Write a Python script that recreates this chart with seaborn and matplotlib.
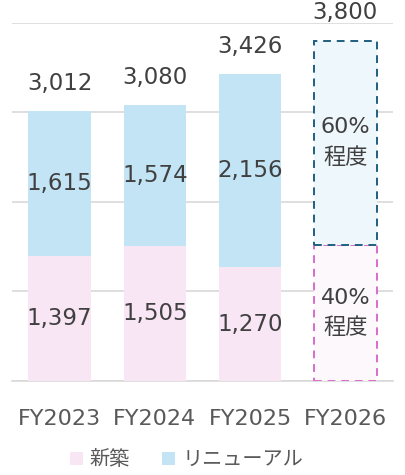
import pandas as pd
import matplotlib.pyplot as plt
import seaborn as sns
from matplotlib.patches import Patch

sns.set_style('white')
plt.rcParams['font.family'] = ['DejaVu Sans', 'Noto Sans CJK JP']

# データ
years = ['FY2023', 'FY2024', 'FY2025', 'FY2026']
new_build = [1397, 1505, 1270]      # 新築
renewal = [1615, 1574, 2156]        # リニューアル
totals = [3012, 3080, 3426, 3800]
plan_total = 3800
plan_share = [0.4, 0.6]             # 新築, リニューアル
plan_labels = ['40%\n程度', '60%\n程度']

c_new = '#f9e6f5'
c_ren = '#c2e4f4'
txt = '#404040'

df = pd.DataFrame({'year': years[:3], 'new': new_build, 'ren': renewal})
plan_new = plan_total * plan_share[0]
plan_ren = plan_total * plan_share[1]
df_plan = pd.DataFrame({'year': [years[3]], 'new': [plan_new], 'ren': [plan_ren]})

fig = plt.figure(figsize=(4.05, 4.75), dpi=100)
ax = fig.add_axes([0.03, 0.198, 0.94, 0.754])

# 実績 (積み上げ)
sns.barplot(data=df, x='year', y='new', order=years, color=c_new,
            width=0.66, saturation=1, linewidth=0, ax=ax, zorder=3)
sns.barplot(data=df, x='year', y='ren', order=years, color=c_ren,
            width=0.66, saturation=1, linewidth=0, bottom=df['new'].values,
            ax=ax, zorder=3)

# 計画 (破線枠)
sns.barplot(data=df_plan, x='year', y='new', order=years, color='#fcf8fc',
            edgecolor='#d86ccc', linestyle=(0, (4, 3)), linewidth=1.4,
            width=0.66, saturation=1, ax=ax, zorder=3)
sns.barplot(data=df_plan, x='year', y='ren', order=years, color='#eef7fc',
            edgecolor='#1f5f80', linestyle=(0, (4, 3)), linewidth=1.4,
            width=0.66, saturation=1, bottom=[plan_new], ax=ax, zorder=4)

# 数値ラベル
fs = 16.5
for i in range(3):
    ax.text(i, new_build[i] / 2, f'{new_build[i]:,}', ha='center', va='center',
            fontsize=fs, color=txt, zorder=5)
    ax.text(i, new_build[i] + renewal[i] / 2, f'{renewal[i]:,}', ha='center',
            va='center', fontsize=fs, color=txt, zorder=5)
for i, t in enumerate(totals):
    ax.annotate(f'{t:,}', (i, t), xytext=(0, 12), textcoords='offset points',
                ha='center', va='bottom', fontsize=fs, color=txt)
ax.text(3, plan_new / 2, plan_labels[0], ha='center', va='center',
        fontsize=fs - 0.5, color=txt, linespacing=1.6, zorder=5)
ax.text(3, plan_new + plan_ren / 2, plan_labels[1], ha='center', va='center',
        fontsize=fs - 0.5, color=txt, linespacing=1.6, zorder=5)

# 軸
ax.set_ylim(0, 4000)
ax.set_xlim(-0.5, 3.5)
ax.set_yticks([0, 1000, 2000, 3000, 4000])
ax.yaxis.grid(True, color='#d9d9d9', linewidth=1.2, zorder=0)
ax.set_axisbelow(True)
ax.tick_params(axis='y', left=False, labelleft=False)
ax.tick_params(axis='x', bottom=False, labelsize=16, labelcolor='#595959', pad=17)
ax.set_xlabel('')
ax.set_ylabel('')
for s in ['top', 'right', 'left']:
    ax.spines[s].set_visible(False)
ax.spines['bottom'].set_color('#d9d9d9')
ax.spines['bottom'].set_linewidth(1.2)

# 凡例
handles = [Patch(facecolor=c_new, edgecolor='none', label='新築'),
           Patch(facecolor=c_ren, edgecolor='none', label='リニューアル')]
fig.legend(handles=handles, loc='center', bbox_to_anchor=(0.46, 0.032), ncol=2,
           frameon=False, fontsize=14.5, handlelength=0.65, handleheight=0.65,
           handletextpad=0.35, columnspacing=1.6, labelcolor='#595959')

plt.savefig('out.png', dpi=100)
